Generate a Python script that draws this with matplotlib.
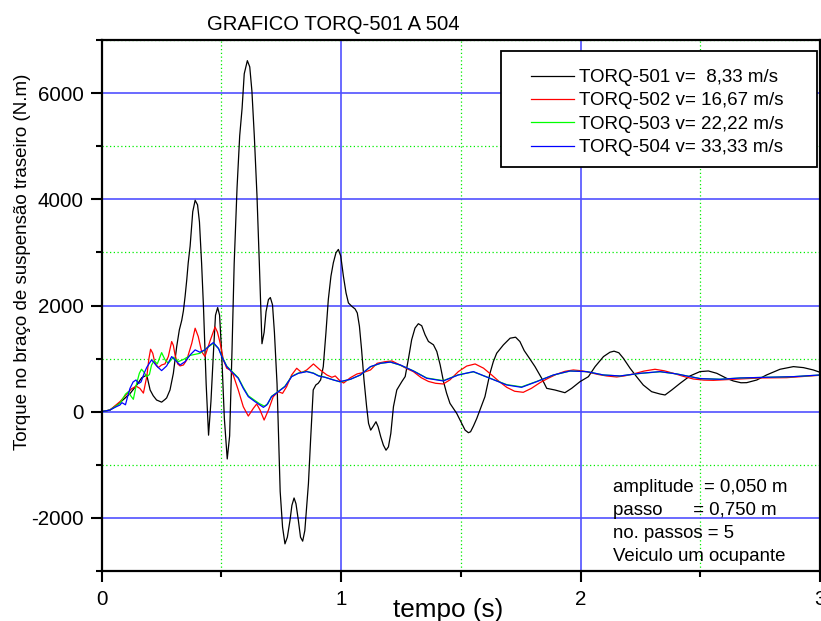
import matplotlib
matplotlib.use("Agg")
from matplotlib import pyplot as plt
from matplotlib.ticker import MultipleLocator
from matplotlib.patches import Rectangle

plt.rcParams['font.family'] = ['Liberation Sans', 'DejaVu Sans']
plt.rcParams['axes.unicode_minus'] = False

# TORQ-501, v = 8,33 m/s
t_501 = [0, 0.035, 0.077, 0.119, 0.150, 0.168, 0.189, 0.203, 0.216, 0.230,
         0.251, 0.265, 0.272, 0.286, 0.300, 0.314, 0.325, 0.335, 0.342, 0.349,
         0.356, 0.362, 0.370, 0.381, 0.391, 0.401, 0.409, 0.418, 0.426, 0.437,
         0.447, 0.457, 0.468, 0.476, 0.485, 0.493, 0.501, 0.513, 0.525, 0.535,
         0.545, 0.554, 0.566, 0.577, 0.587, 0.596, 0.609, 0.619, 0.628, 0.638,
         0.649, 0.659, 0.670, 0.679, 0.687, 0.697, 0.705, 0.714, 0.722, 0.733,
         0.746, 0.756, 0.766, 0.776, 0.787, 0.795, 0.804, 0.812, 0.822, 0.831,
         0.840, 0.849, 0.864, 0.873, 0.884, 0.895, 0.905, 0.915, 0.926, 0.937,
         0.947, 0.958, 0.968, 0.979, 0.989, 0.999, 1.010, 1.021, 1.031, 1.045,
         1.059, 1.068, 1.077, 1.086, 1.096, 1.107, 1.115, 1.124, 1.135, 1.146,
         1.155, 1.166, 1.177, 1.188, 1.198, 1.208, 1.219, 1.233, 1.254, 1.268,
         1.282, 1.295, 1.309, 1.323, 1.337, 1.351, 1.365, 1.386, 1.400, 1.414,
         1.428, 1.441, 1.455, 1.483, 1.504, 1.518, 1.532, 1.541, 1.553, 1.567,
         1.580, 1.601, 1.622, 1.636, 1.650, 1.678, 1.706, 1.729, 1.747, 1.765,
         1.782, 1.810, 1.838, 1.859, 1.893, 1.935, 1.963, 1.998, 2.033, 2.061,
         2.096, 2.123, 2.140, 2.160, 2.179, 2.207, 2.234, 2.262, 2.297, 2.332,
         2.353, 2.381, 2.416, 2.457, 2.499, 2.534, 2.569, 2.610, 2.638, 2.670,
         2.694, 2.736, 2.777, 2.833, 2.889, 2.931, 2.972, 3.0]
torq_501 = [0, 30, 170, 340, 520, 640, 690, 409, 300, 220,
            180, 230, 260, 409, 723, 1227, 1541, 1720, 1900, 2170,
            2485, 2800, 3117, 3767, 3981, 3896, 3572, 2792, 1948, 520,
            -442, 195, 1169, 1818, 1961, 1818, 1169, -130, -890, -455,
            1169, 2792, 4221, 5195, 5714, 6364, 6611, 6494, 6040, 5195,
            4091, 2792, 1280, 1494, 1883, 2111, 2150, 2013, 1494, 520,
            -1500, -2174, -2489, -2363, -2048, -1764, -1625, -1733, -2048, -2363,
            -2438, -2237, -1355, -536, 410, 504, 536, 599, 850, 1481,
            2111, 2552, 2804, 2993, 3056, 2930, 2552, 2237, 2048, 1985,
            1934, 1859, 1607, 1166, 599, 95, -220, -347, -271, -189,
            -284, -473, -630, -725, -662, -410, 95, 410, 567, 662,
            1008, 1355, 1575, 1657, 1619, 1449, 1323, 1260, 1134, 882,
            567, 347, 157, -31, -220, -346, -396, -377, -270, -126,
            31, 283, 723, 943, 1101, 1258, 1384, 1403, 1321, 1150,
            1038, 849, 629, 440, 409, 358, 440, 566, 660, 849,
            1038, 1120, 1140, 1110, 1006, 818, 660, 503, 377, 333,
            315, 409, 535, 673, 755, 767, 723, 629, 579, 545,
            547, 597, 692, 799, 849, 830, 786, 742]

# TORQ-502, v = 16,67 m/s
t_502 = [0, 0.035, 0.077, 0.105, 0.125, 0.145, 0.160, 0.175, 0.189, 0.198,
         0.205, 0.214, 0.223, 0.237, 0.251, 0.265, 0.279, 0.293, 0.300, 0.307,
         0.318, 0.328, 0.342, 0.356, 0.377, 0.391, 0.404, 0.418, 0.432, 0.453,
         0.474, 0.484, 0.495, 0.509, 0.523, 0.537, 0.550, 0.571, 0.592, 0.613,
         0.634, 0.648, 0.662, 0.679, 0.697, 0.717, 0.738, 0.756, 0.773, 0.794,
         0.815, 0.836, 0.857, 0.885, 0.913, 0.941, 0.962, 0.976, 0.995, 1.011,
         1.039, 1.067, 1.095, 1.123, 1.151, 1.186, 1.213, 1.246, 1.275, 1.302,
         1.335, 1.365, 1.395, 1.427, 1.455, 1.490, 1.525, 1.560, 1.595, 1.629,
         1.660, 1.692, 1.725, 1.761, 1.795, 1.831, 1.865, 1.900, 1.935, 1.970,
         2.005, 2.040, 2.075, 2.109, 2.151, 2.185, 2.221, 2.265, 2.311, 2.350,
         2.388, 2.430, 2.471, 2.515, 2.555, 2.638, 2.749, 2.861, 3.0]
torq_502 = [0, 31, 189, 330, 430, 480, 440, 350, 660, 1000,
            1176, 1100, 920, 830, 880, 900, 1038, 1321, 1250, 1069,
            900, 862, 880, 975, 1289, 1572, 1415, 1132, 1040, 1330,
            1595, 1500, 1300, 975, 818, 786, 692, 409, 94, -82,
            63, 145, 31, -157, 31, 283, 377, 346, 472, 692,
            818, 736, 786, 899, 786, 692, 648, 673, 585, 540,
            640, 711, 740, 786, 912, 943, 955, 880, 810, 755,
            640, 570, 535, 522, 600, 755, 860, 899, 820, 692,
            570, 459, 385, 365, 440, 547, 630, 705, 760, 786,
            770, 736, 700, 673, 654, 675, 711, 765, 799, 770,
            723, 665, 616, 595, 591, 610, 635, 641, 686]

# TORQ-503, v = 22,22 m/s
t_503 = [0, 0.035, 0.077, 0.100, 0.112, 0.122, 0.133, 0.145, 0.158, 0.167,
         0.178, 0.189, 0.200, 0.209, 0.220, 0.233, 0.251, 0.265, 0.279, 0.300,
         0.321, 0.345, 0.370, 0.411, 0.439, 0.467, 0.490, 0.502, 0.523, 0.550,
         0.571, 0.592, 0.613, 0.641, 0.660, 0.680, 0.695, 0.710, 0.738, 0.766,
         0.794, 0.822, 0.857, 0.885, 0.906, 0.933, 0.968, 0.997, 1.039, 1.081,
         1.123, 1.165, 1.206, 1.248, 1.302, 1.358, 1.427, 1.490, 1.553, 1.622,
         1.692, 1.754, 1.817, 1.887, 1.956, 2.026, 2.095, 2.165, 2.249, 2.332,
         2.402, 2.499, 2.582, 2.666, 2.777, 2.889, 3.0]
torq_503 = [0, 31, 157, 330, 377, 300, 233, 500, 723, 800,
            740, 660, 700, 880, 960, 900, 1113, 980, 912, 1025,
            943, 990, 1060, 1100, 1195, 1289, 1180, 1050, 860, 735,
            640, 460, 300, 210, 150, 105, 150, 290, 380, 480,
            665, 728, 760, 728, 680, 650, 600, 560, 610, 690,
            845, 910, 935, 875, 770, 635, 585, 695, 750, 630,
            510, 468, 570, 690, 765, 755, 692, 673, 720, 752,
            711, 625, 612, 635, 648, 660, 690]

# TORQ-504, v = 33,33 m/s
t_504 = [0, 0.035, 0.060, 0.077, 0.085, 0.093, 0.100, 0.110, 0.119, 0.132,
         0.144, 0.155, 0.165, 0.178, 0.189, 0.209, 0.220, 0.230, 0.251, 0.272,
         0.293, 0.314, 0.328, 0.349, 0.370, 0.391, 0.411, 0.432, 0.452, 0.467,
         0.488, 0.502, 0.523, 0.550, 0.571, 0.592, 0.613, 0.641, 0.660, 0.676,
         0.690, 0.710, 0.738, 0.766, 0.794, 0.822, 0.857, 0.885, 0.906, 0.933,
         0.968, 0.995, 1.039, 1.081, 1.123, 1.165, 1.206, 1.248, 1.302, 1.358,
         1.427, 1.490, 1.553, 1.622, 1.692, 1.754, 1.817, 1.887, 1.956, 2.026,
         2.095, 2.165, 2.249, 2.332, 2.402, 2.499, 2.582, 2.666, 2.777, 2.889,
         3.0]
torq_504 = [0, 31, 90, 126, 170, 150, 130, 300, 440, 560,
            598, 530, 560, 723, 836, 975, 920, 862, 774, 862,
            1038, 943, 880, 943, 1069, 1164, 1120, 1164, 1250, 1302,
            1195, 1038, 849, 723, 629, 440, 283, 189, 130, 82,
            126, 283, 377, 472, 660, 723, 755, 723, 673, 648,
            598, 566, 610, 692, 849, 912, 935, 880, 767, 629,
            579, 692, 755, 629, 503, 459, 566, 692, 767, 755,
            692, 673, 723, 755, 711, 623, 610, 635, 648, 660,
            692]

series = [
    (t_501, torq_501, 'black', 'TORQ-501 v=  8,33 m/s'),
    (t_502, torq_502, 'red', 'TORQ-502 v= 16,67 m/s'),
    (t_503, torq_503, '#00ff00', 'TORQ-503 v= 22,22 m/s'),
    (t_504, torq_504, 'blue', 'TORQ-504 v= 33,33 m/s'),
]

notes = ['amplitude  = 0,050 m', 'passo      = 0,750 m',
         'no. passos = 5', 'Veiculo um ocupante']

fig = plt.figure(figsize=(8.21, 6.21), dpi=100)
ax = fig.add_axes([101.5 / 821, 50 / 621, 718.5 / 821, 531 / 621])

for t, y, color, label in series:
    ax.plot(t, y, color=color, lw=0.9, label=label)

ax.set_xlim(0, 3)
ax.set_ylim(-3000, 7000)
ax.xaxis.set_major_locator(MultipleLocator(1))
ax.xaxis.set_minor_locator(MultipleLocator(0.5))
ax.yaxis.set_major_locator(MultipleLocator(2000))
ax.yaxis.set_minor_locator(MultipleLocator(1000))

ax.set_axisbelow(True)
ax.grid(which='major', color='#5050ff', lw=1.2, ls='-')
ax.grid(which='minor', color='#00ee00', lw=0.9, ls=(0, (1, 2)))

for s in ax.spines.values():
    s.set_linewidth(1.6)
ax.tick_params(which='major', direction='out', length=8, width=1.5,
               labelsize=14.8, top=False, right=False)
ax.tick_params(which='minor', direction='out', length=4.5, width=1.5,
               top=False, right=False)
ax.tick_params(axis='x', which='major', pad=6)
ax.tick_params(axis='y', which='major', pad=5)

fig.text(207 / 821, 1 - 30.5 / 621, 'GRAFICO TORQ-501 A 504', fontsize=14.6,
         ha='left', va='baseline')
fig.text(448.5 / 821, 4.5 / 621, 'tempo (s)', fontsize=18.8,
         ha='center', va='baseline')
fig.text(23 / 821, 1 - 262 / 621, 'Torque no braço de suspensão traseiro (N.m)',
         fontsize=13.5, rotation=90, ha='center', va='center')

# legend box drawn separately so the padding matches
fig.patches.append(Rectangle((501 / 821, 1 - 167 / 621), 316 / 821, 116 / 621,
                             transform=fig.transFigure, facecolor='white',
                             edgecolor='black', lw=1.3, zorder=3))
leg = fig.legend(loc='upper left', bbox_to_anchor=(531 / 821, 1 - 69 / 621),
                 frameon=False, fontsize=13.5, borderpad=0, borderaxespad=0,
                 handlelength=2.3, handletextpad=0.27, labelspacing=0.33)
leg.set_zorder(4)

for i, line in enumerate(notes):
    fig.text(613 / 821, 1 - (492 + 23 * i) / 621, line, fontsize=13.4,
             ha='left', va='baseline')

fig.savefig('out.png', dpi=100)
